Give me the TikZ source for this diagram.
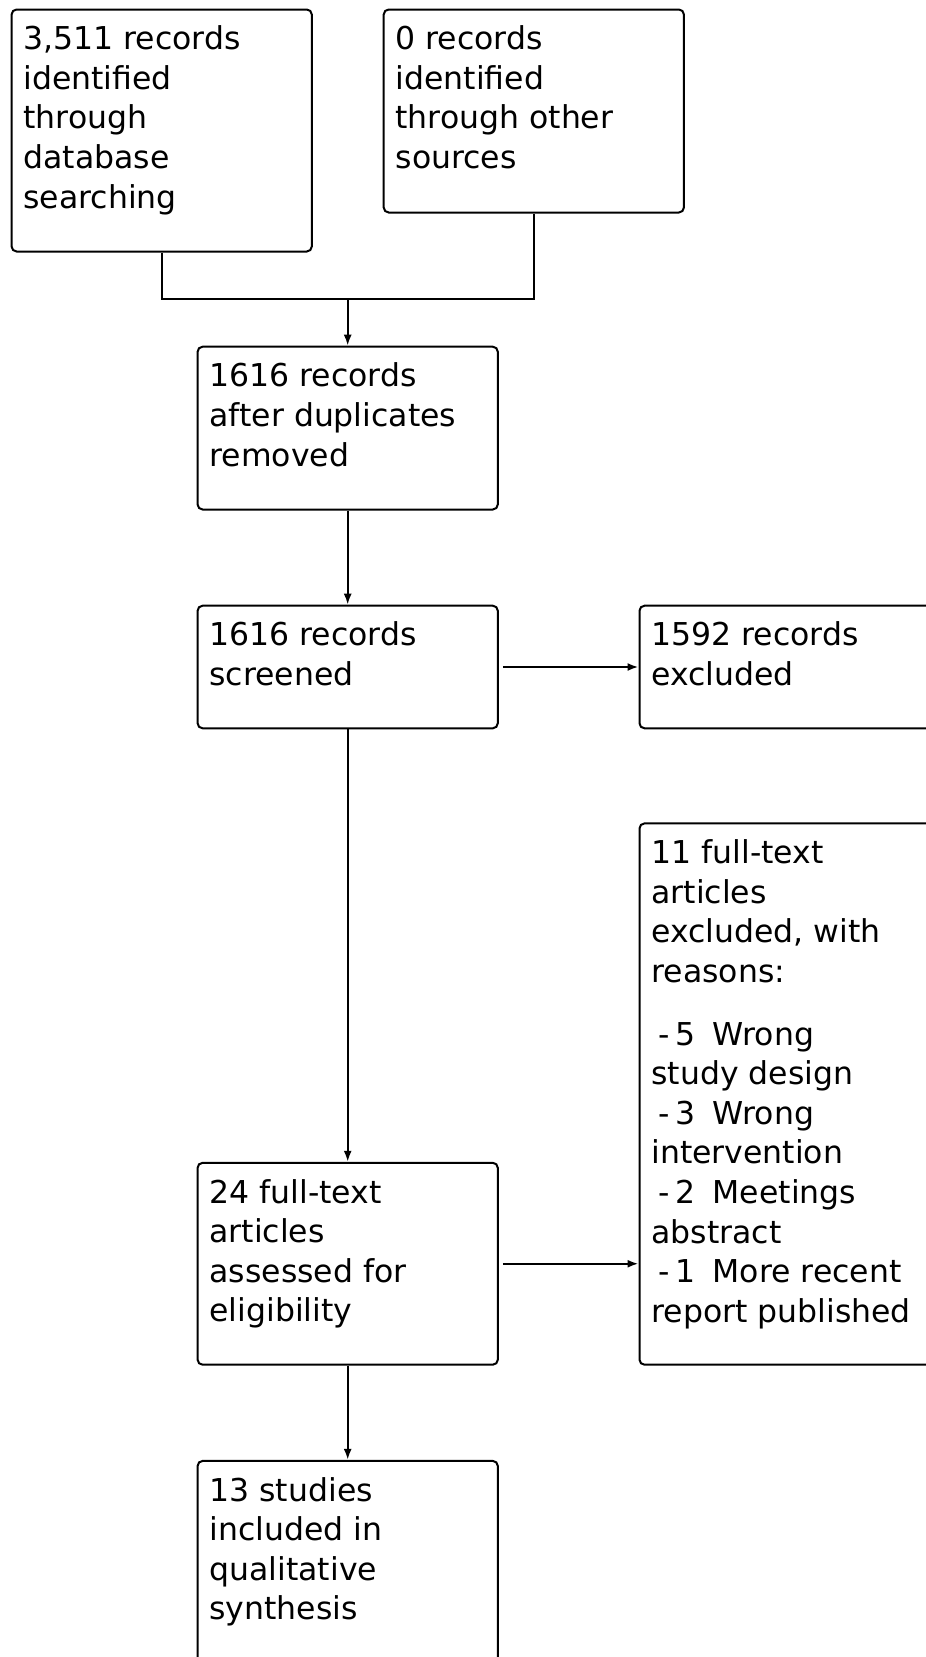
\documentclass[tikz,border=0pt]{standalone}
\usepackage{fontspec}
\setmainfont{DejaVu Sans}
\usetikzlibrary{arrows.meta}
\begin{document}
\begin{tikzpicture}[x=1pt,y=-1pt,
 box/.style={draw, line width=2pt, rounded corners=5pt, anchor=north west, inner sep=0pt},
 txt/.style={anchor=north west, inner sep=0pt, align=left, font=\fontsize{31.5}{39.6}\selectfont},
 conn/.style={line width=2pt},
 arr/.style={conn, -{Latex[length=11pt,width=8pt]}}]
\useasboundingbox (0,0) rectangle (926,1657);
\fill[white] (0,0) rectangle (926,1657);
% boxes
\node[box, minimum width=300.2pt, minimum height=242pt] (b1) at (10.6,8.5) {};
\node[box, minimum width=300.2pt, minimum height=203pt] (b2) at (382.7,8.5) {};
\node[box, minimum width=300.2pt, minimum height=162.8pt] (b3) at (196.6,345.7) {};
\node[box, minimum width=300.2pt, minimum height=122.6pt] (b4) at (196.6,604.7) {};
\node[box, minimum width=330pt, minimum height=122.6pt] (b5) at (638.5,604.7) {};
\node[box, minimum width=300.2pt, minimum height=201.9pt] (b6) at (196.6,1161.8) {};
\node[box, minimum width=330pt, minimum height=541.3pt] (b7) at (638.5,822.4) {};
\node[box, minimum width=300.2pt, minimum height=240pt] (b8) at (196.6,1459.9) {};
% texts
\node[txt] (t1) at ([xshift=12.7pt,yshift=-13.3pt]b1.north west) {\strut 3,511 records\\identified\\through\\database\\searching};
\node[txt] (t2) at ([xshift=12.7pt,yshift=-13.3pt]b2.north west) {\strut 0 records\\identified\\through other\\sources};
\node[txt] (t3) at ([xshift=12.7pt,yshift=-13.3pt]b3.north west) {\strut 1616 records\\after duplicates\\removed};
\node[txt] (t4) at ([xshift=12.7pt,yshift=-13.3pt]b4.north west) {\strut 1616 records\\screened};
\node[txt] (t5) at ([xshift=12.7pt,yshift=-13.3pt]b5.north west) {\strut 1592 records\\excluded};
\node[txt] (t6) at ([xshift=12.7pt,yshift=-13.3pt]b6.north west) {\strut 24 full-text\\articles\\assessed for\\eligibility};
\node[txt] (t7) at ([xshift=12.7pt,yshift=-13.3pt]b7.north west) {\strut 11 full-text\\articles\\excluded, with\\reasons:\\[23pt]
\hspace{7pt}-\hspace{6pt}5\hspace{17pt}Wrong\\study design\\
\hspace{7pt}-\hspace{6pt}3\hspace{17pt}Wrong\\intervention\\
\hspace{7pt}-\hspace{6pt}2\hspace{17pt}Meetings\\abstract\\
\hspace{7pt}-\hspace{6pt}1\hspace{17pt}More recent\\report published};
\node[txt] (t8) at ([xshift=12.7pt,yshift=-13.3pt]b8.north west) {\strut 13 studies\\included in\\qualitative\\synthesis};
% connectors
\coordinate (jy) at (0,299.2);
\coordinate (j) at (b3.north |- jy);
\draw[conn] (b1.south) |- (j) -| (b2.south);
\draw[arr] (j) -- (b3.north);
\draw[arr] (b3.south) -- (b4.north);
\draw[arr] ([xshift=4pt]b4.east) -- (b4.east -| b5.west);
\draw[arr] (b4.south) -- (b6.north);
\draw[arr] ([xshift=4pt]b6.east) -- (b6.east -| b7.west);
\draw[arr] (b6.south) -- (b8.north);
\end{tikzpicture}
\end{document}
